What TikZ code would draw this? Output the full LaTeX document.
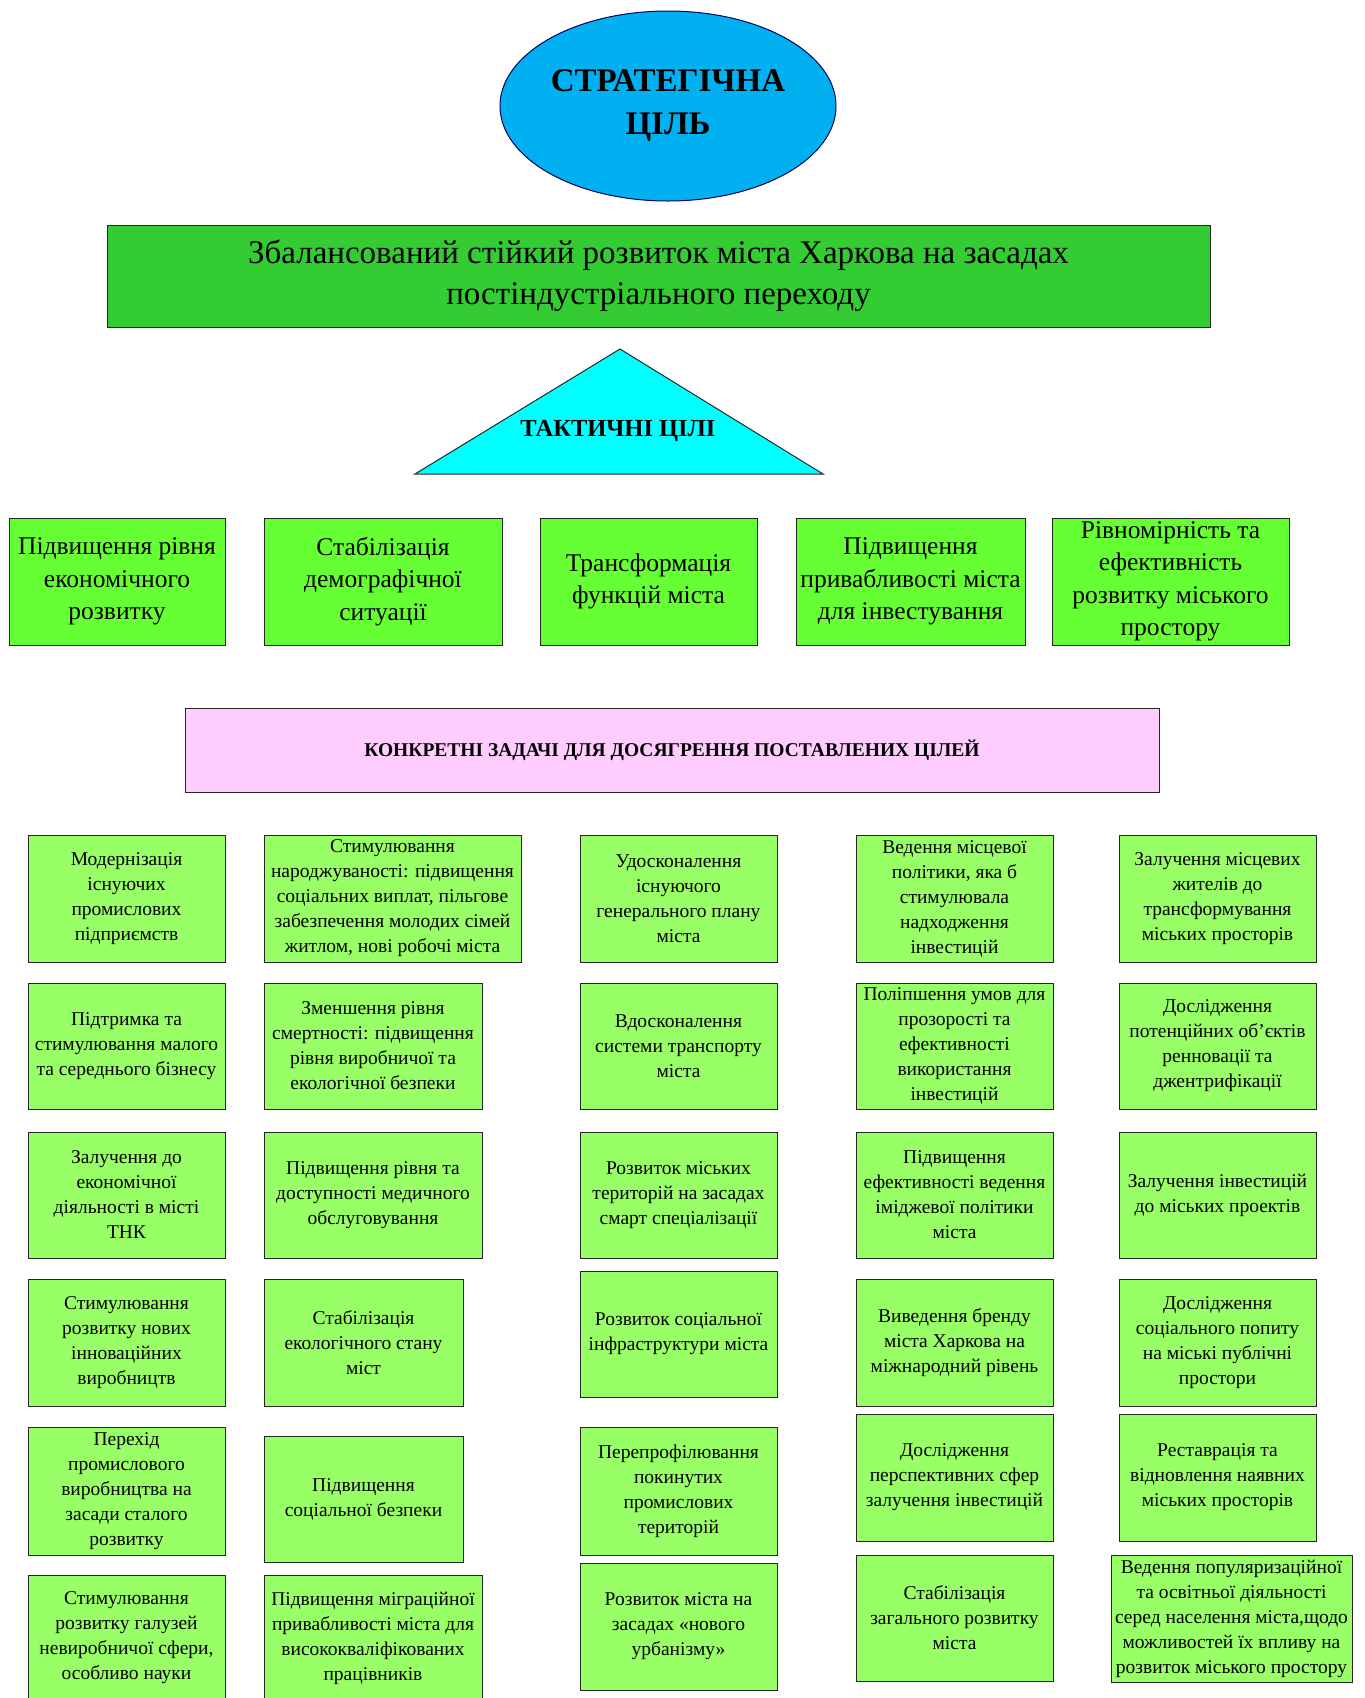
\documentclass[tikz,border=0pt]{standalone}
\usepackage{fontspec}
\setmainfont{Liberation Serif}
\usetikzlibrary{shapes.geometric}
\definecolor{ellblue}{RGB}{0,176,240}
\definecolor{bannergreen}{RGB}{51,204,51}
\definecolor{tricyan}{RGB}{0,255,255}
\definecolor{tacgreen}{RGB}{102,255,51}
\definecolor{pinkbox}{RGB}{255,204,255}
\definecolor{taskgreen}{RGB}{153,255,102}
\tikzset{
  box/.style={draw=black!85, line width=1pt, inner sep=0pt, align=center},
  taskbox/.style={box, fill=taskgreen, font=\fontsize{19.5}{25}\selectfont},
  tacbox/.style={box, fill=tacgreen, font=\fontsize{25.5}{32.5}\selectfont},
}
\newcommand\mybox[7]{\node[#1, minimum width={(#5-#3)*1pt}, minimum height={(#6-#4)*1pt}] (#2) at ({(#3+#5)/2},{(#4+#6)/2}) {#7};}
\begin{document}
\begin{tikzpicture}[x=1pt,y=-1pt]
\useasboundingbox (0,0) rectangle (1365,1698);
\clip (0,0) rectangle (1365,1698);
\fill[white] (0,0) rectangle (1365,1698);

% strategic goal
\node[ellipse, draw=blue!35!black, line width=1pt, fill=ellblue, minimum width=336pt, minimum height=190pt, inner sep=0pt, align=center, font=\bfseries\fontsize{33}{43}\selectfont] (strat) at (668,106) {СТРАТЕГІЧНА\\ЦІЛЬ};

\mybox{box, fill=bannergreen, font=\fontsize{33}{41}\selectfont}{banner}{107}{225}{1210}{327}{Збалансований стійкий розвиток міста Харкова на засадах\\постіндустріального переходу}

% triangle
\coordinate (tA) at (620,349);
\coordinate (tB) at (415,474);
\coordinate (tC) at (823,474);
\draw[draw=black!85, line width=1pt, fill=tricyan] (tA) -- (tB) -- (tC) -- cycle;
\node[font=\bfseries\fontsize{24.5}{28}\selectfont] (tact) at (618,431) {ТАКТИЧНІ ЦІЛІ};

% tactical goals
\mybox{tacbox}{t1}{9}{518}{225}{645}{Підвищення рівня\\економічного\\розвитку}
\mybox{tacbox}{t2}{264}{518}{502}{645}{Стабілізація\\демографічної\\ситуації}
\mybox{tacbox}{t3}{540}{518}{757}{645}{Трансформація\\функцій міста}
\mybox{tacbox}{t4}{796}{518}{1025}{645}{Підвищення\\привабливості міста\\для інвестування}
\mybox{tacbox}{t5}{1052}{518}{1289}{645}{Рівномірність та\\ефективність\\розвитку міського\\простору}

% tasks header
\mybox{box, fill=pinkbox, font=\bfseries\fontsize{19.5}{24}\selectfont}{tasks}{185}{708}{1159}{792}{КОНКРЕТНІ ЗАДАЧІ ДЛЯ ДОСЯГРЕННЯ ПОСТАВЛЕНИХ ЦІЛЕЙ}

% column 1
\mybox{taskbox}{a1}{28}{835}{225}{962}{Модернізація\\існуючих\\промислових\\підприємств}
\mybox{taskbox}{a2}{28}{983}{225}{1109}{Підтримка та\\стимулювання малого\\та середнього бізнесу}
\mybox{taskbox}{a3}{28}{1132}{225}{1258}{Залучення до\\економічної\\діяльності в місті\\ТНК}
\mybox{taskbox}{a4}{28}{1279}{225}{1406}{Стимулювання\\розвитку нових\\інноваційних\\виробництв}
\mybox{taskbox}{a5}{28}{1427}{225}{1555}{Перехід\\промислового\\виробництва на\\засади сталого\\розвитку}
\mybox{taskbox}{a6}{28}{1575}{225}{1701}{Стимулювання\\розвитку галузей\\невиробничої сфери,\\особливо науки}

% column 2
\mybox{taskbox}{b1}{264}{835}{521}{962}{Стимулювання\\народжуваності: підвищення\\соціальних виплат, пільгове\\забезпечення молодих сімей\\житлом, нові робочі міста}
\mybox{taskbox}{b2}{264}{983}{482}{1109}{Зменшення рівня\\смертності: підвищення\\рівня виробничої та\\екологічної безпеки}
\mybox{taskbox}{b3}{264}{1132}{482}{1258}{Підвищення рівня та\\доступності медичного\\обслуговування}
\mybox{taskbox}{b4}{264}{1279}{463}{1406}{Стабілізація\\екологічного стану\\міст}
\mybox{taskbox}{b5}{264}{1436}{463}{1562}{Підвищення\\соціальної безпеки}
\mybox{taskbox}{b6}{264}{1575}{482}{1701}{Підвищення міграційної\\привабливості міста для\\висококваліфікованих\\працівників}

% column 3
\mybox{taskbox}{c1}{580}{835}{777}{962}{Удосконалення\\існуючого\\генерального плану\\міста}
\mybox{taskbox}{c2}{580}{983}{777}{1109}{Вдосконалення\\системи транспорту\\міста}
\mybox{taskbox}{c3}{580}{1132}{777}{1258}{Розвиток міських\\територій на засадах\\смарт спеціалізації}
\mybox{taskbox}{c4}{580}{1271}{777}{1397}{Розвиток соціальної\\інфраструктури міста}
\mybox{taskbox}{c5}{580}{1427}{777}{1555}{Перепрофілювання\\покинутих\\промислових\\територій}
\mybox{taskbox}{c6}{580}{1563}{777}{1690}{Розвиток міста на\\засадах «нового\\урбанізму»}

% column 4
\mybox{taskbox}{d1}{856}{835}{1053}{962}{Ведення місцевої\\політики, яка б\\стимулювала\\надходження\\інвестицій}
\mybox{taskbox}{d2}{856}{983}{1053}{1109}{Поліпшення умов для\\прозорості та\\ефективності\\використання\\інвестицій}
\mybox{taskbox}{d3}{856}{1132}{1053}{1258}{Підвищення\\ефективності ведення\\іміджевої політики\\міста}
\mybox{taskbox}{d4}{856}{1279}{1053}{1406}{Виведення бренду\\міста Харкова на\\міжнародний рівень}
\mybox{taskbox}{d5}{856}{1414}{1053}{1541}{Дослідження\\перспективних сфер\\залучення інвестицій}
\mybox{taskbox}{d6}{856}{1555}{1053}{1681}{Стабілізація\\загального розвитку\\міста}

% column 5
\mybox{taskbox}{e1}{1119}{835}{1316}{962}{Залучення місцевих\\жителів до\\трансформування\\міських просторів}
\mybox{taskbox}{e2}{1119}{983}{1316}{1109}{Дослідження\\потенційних об’єктів\\ренновації та\\джентрифікації}
\mybox{taskbox}{e3}{1119}{1132}{1316}{1258}{Залучення інвестицій\\до міських проектів}
\mybox{taskbox}{e4}{1119}{1279}{1316}{1406}{Дослідження\\соціального попиту\\на міські публічні\\простори}
\mybox{taskbox}{e5}{1119}{1414}{1316}{1541}{Реставрація та\\відновлення наявних\\міських просторів}
\mybox{taskbox}{e6}{1111}{1555}{1352}{1682}{Ведення популяризаційної\\та освітньої діяльності\\серед населення міста,щодо\\можливостей їх впливу на\\розвиток міського простору}
\end{tikzpicture}
\end{document}
